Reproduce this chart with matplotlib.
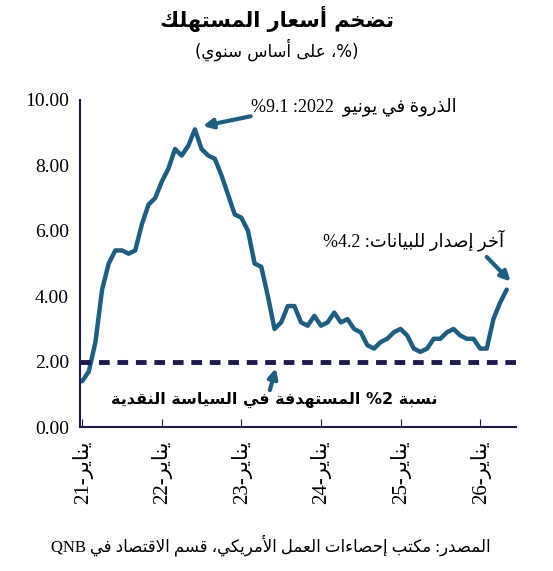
import numpy as np
import matplotlib.pyplot as plt

# ---- minimal Arabic shaping (matplotlib has no RTL layout) ----
DUAL = {'ئ': 0xFE89, 'ب': 0xFE8F, 'ت': 0xFE95, 'ث': 0xFE99, 'ج': 0xFE9D, 'ح': 0xFEA1,
        'خ': 0xFEA5, 'س': 0xFEB1, 'ش': 0xFEB5, 'ص': 0xFEB9, 'ض': 0xFEBD, 'ط': 0xFEC1,
        'ظ': 0xFEC5, 'ع': 0xFEC9, 'غ': 0xFECD, 'ف': 0xFED1, 'ق': 0xFED5, 'ك': 0xFED9,
        'ل': 0xFEDD, 'م': 0xFEE1, 'ن': 0xFEE5, 'ه': 0xFEE9, 'ي': 0xFEF1}
RIGHT = {'آ': 0xFE81, 'أ': 0xFE83, 'ؤ': 0xFE85, 'إ': 0xFE87, 'ا': 0xFE8D, 'ة': 0xFE93,
         'د': 0xFEA9, 'ذ': 0xFEAB, 'ر': 0xFEAD, 'ز': 0xFEAF, 'و': 0xFEED, 'ى': 0xFEEF}
LAMALEF = {'ا': 0xFEFB, 'أ': 0xFEF7, 'إ': 0xFEF9, 'آ': 0xFEF5}


def ar(s):
    # combine lam-alef first
    toks = []
    i = 0
    while i < len(s):
        if s[i] == 'ل' and i + 1 < len(s) and s[i + 1] in LAMALEF:
            toks.append(('LA', s[i + 1]))
            i += 2
        else:
            toks.append(('C', s[i]))
            i += 1

    def joins_left(t):
        return t[0] == 'C' and t[1] in DUAL

    def joins_right(t):
        return t[0] == 'LA' or t[1] in DUAL or t[1] in RIGHT

    out = []
    for k, t in enumerate(toks):
        prev_j = k > 0 and joins_left(toks[k - 1])
        next_j = k + 1 < len(toks) and joins_right(toks[k + 1])
        if t[0] == 'LA':
            out.append(chr(LAMALEF[t[1]] + (1 if prev_j else 0)))
        elif t[1] in DUAL:
            base = DUAL[t[1]]
            if prev_j and next_j:
                out.append(chr(base + 3))
            elif next_j:
                out.append(chr(base + 2))
            elif prev_j:
                out.append(chr(base + 1))
            else:
                out.append(chr(base))
        elif t[1] in RIGHT:
            out.append(chr(RIGHT[t[1]] + (1 if prev_j else 0)))
        elif t[1] == 'ء':
            out.append(chr(0xFE80))
        else:
            out.append(t[1])
    return ''.join(out)[::-1]


# ---- data: US CPI inflation, % y/y, monthly from Jan-21 ----
cpi = [1.4, 1.7, 2.6, 4.2, 5.0, 5.4, 5.4, 5.3, 5.4, 6.2, 6.8, 7.0,
       7.5, 7.9, 8.5, 8.3, 8.6, 9.1, 8.5, 8.3, 8.2, 7.7, 7.1, 6.5,
       6.4, 6.0, 5.0, 4.9, 4.0, 3.0, 3.2, 3.7, 3.7, 3.2, 3.1, 3.4,
       3.1, 3.2, 3.5, 3.2, 3.3, 3.0, 2.9, 2.5, 2.4, 2.6, 2.7, 2.9,
       3.0, 2.8, 2.4, 2.3, 2.4, 2.7, 2.7, 2.9, 3.0, 2.8, 2.7, 2.7,
       2.4, 2.4, 3.3, 3.8, 4.2]
target = 2.0
years = ['21', '22', '23', '24', '25', '26']

plt.rcParams['font.family'] = ['Liberation Serif', 'DejaVu Sans']
blue = '#1c5f82'
navy = '#1c1a4f'
mixed = ['Liberation Serif', 'DejaVu Sans']

fig = plt.figure(figsize=(5.53, 5.71), dpi=100)
ax = fig.add_axes([0.145, 0.252, 0.788, 0.573])

x = np.arange(len(cpi))
ax.plot(x, cpi, color=blue, lw=3.2, solid_capstyle='round')
ax.axhline(target, color=navy, lw=3.5, ls=(0, (2.2, 1.6)))

ax.set_xlim(-0.3, 65.4)
ax.set_ylim(0, 10)
ax.set_yticks(np.arange(0, 10.1, 2))
ax.set_yticklabels([f'{v:.2f}' for v in np.arange(0, 10.1, 2)], fontsize=14)
ax.tick_params(axis='y', length=0, pad=8)
ax.set_xticks(np.arange(0, 61, 12))
ax.set_xticklabels([y + '-' + ar('يناير') for y in years], rotation=90, fontsize=15,
                   family=mixed)
ax.tick_params(axis='x', direction='in', length=6, color=navy, pad=10)
for s in ['top', 'right']:
    ax.spines[s].set_visible(False)
for s in ['left', 'bottom']:
    ax.spines[s].set_color(navy)
    ax.spines[s].set_linewidth(1.5)

fig.text(0.5, 0.952, ar('تضخم أسعار المستهلك'), ha='center', fontsize=15, fontweight='bold',
         family='DejaVu Sans')
fig.text(0.5, 0.9, '(' + ar('%، على أساس سنوي') + ')', ha='center', fontsize=12,
         family='DejaVu Sans')

arrow = dict(arrowstyle='-|>', color=blue, lw=3, mutation_scale=14, shrinkA=0, shrinkB=0)

ax.text(41, 9.8, '%9.1 :2022  ' + ar('الذروة في يونيو'), ha='center', va='center',
        fontsize=13, family=mixed)
ax.annotate('', xy=(18.2, 9.2), xytext=(25.4, 9.5), arrowprops=arrow)

ax.text(50, 5.7, '%4.2 :' + ar('آخر إصدار للبيانات'), ha='center', va='center',
        fontsize=13, family=mixed)
ax.annotate('', xy=(64.6, 4.45), xytext=(61, 5.2), arrowprops=arrow)

ax.text(28.9, 0.83, ar('المستهدفة في السياسة النقدية') + ' %2 ' + ar('نسبة'),
        ha='center', va='center', fontsize=11.5, fontweight='bold', family='DejaVu Sans')
ax.annotate('', xy=(29.2, 1.8), xytext=(28.3, 1.13), arrowprops=arrow)

fig.text(0.49, 0.035, 'QNB ' + ar('المصدر: مكتب إحصاءات العمل الأمريكي، قسم الاقتصاد في'),
         ha='center', fontsize=12, family=mixed)

fig.savefig('out.png', dpi=100)
